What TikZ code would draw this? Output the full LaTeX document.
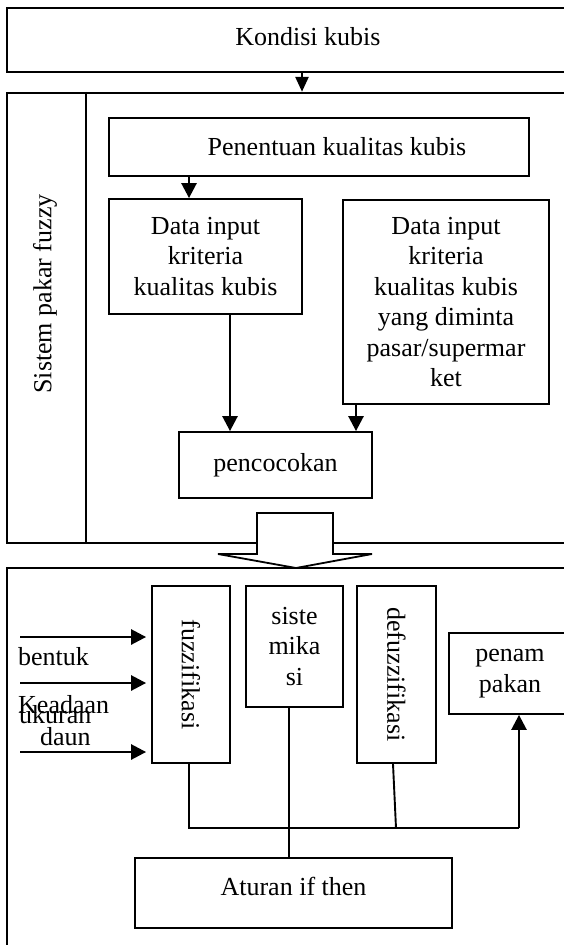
\documentclass[tikz,border=0pt]{standalone}
\usepackage{fontspec}
\setmainfont{Liberation Serif}
\usetikzlibrary{arrows.meta}
\begin{document}
\begin{tikzpicture}[x=1pt,y=-1pt,
  every node/.style={font=\fontsize{26}{30.5}\selectfont},
  box/.style={draw, line width=1.8pt, inner sep=0pt, align=center, fill=white},
  conn/.style={line width=1.9pt},
  arr/.style={line width=2.6pt, -{Triangle[length=15pt,width=15pt]}},
  lbl/.style={inner sep=0pt},
]
\clip (0,0) rectangle (564,945);
\fill[white] (0,0) rectangle (564,945);

% top
\node[box, minimum width=602.3pt, minimum height=63.4pt] (kondisi) at (307.85,40) {};
\node[lbl] (kondisitxt) at (307.85,37) {Kondisi kubis};

% expert system frame
\node[box, minimum width=600pt, minimum height=450.3pt] (sistembox) at (307.3,317.85) {};
\coordinate (div) at (86,0);
\draw[conn, line width=1.8pt] (sistembox.north -| div) -- (sistembox.south -| div);
\node[lbl, rotate=90] (sistemlbl) at (45,294) {Sistem pakar fuzzy};

\node[box, minimum width=420pt, minimum height=58pt] (penentuan) at (319,147) {\hspace*{36pt}Penentuan kualitas kubis};
\node[box, minimum width=193pt, minimum height=115pt] (dataL) at (205.5,256.5) {Data input\\kriteria\\kualitas kubis};
\node[box, minimum width=206pt, minimum height=204pt] (dataR) at (446,302) {Data input\\kriteria\\kualitas kubis\\yang diminta\\pasar/supermar\\ket};
\node[box, minimum width=193pt, minimum height=66pt] (cocok) at (275.5,465) {pencocokan};

\coordinate (a1) at (302,0);
\coordinate (a2) at (189,0);
\coordinate (a3) at (230,0);
\coordinate (a4) at (356,0);
\draw[arr, -{Triangle[length=15pt,width=13pt]}] (kondisi.south -| a1) -- (sistembox.north -| a1);
\draw[arr] (penentuan.south -| a2) -- (dataL.north -| a2);
\draw[arr] (dataL.south -| a3) -- (cocok.north -| a3);
\draw[arr] (dataR.south -| a4) -- (cocok.north -| a4);

% fuzzy frame
\node[box, minimum width=600pt, minimum height=400pt] (fuzzybox) at (307,768) {};

% hollow arrow
\draw[line width=1.8pt, fill=white, line join=miter]
  (257,513) -- (333,513) -- (333,554) -- (372,554) -- (296,568) -- (218,554) -- (257,554) -- cycle;

\node[box, minimum width=78pt, minimum height=177pt] (fuzz) at (191,674.5) {};
\node[lbl, rotate=-90] (fuzztxt) at (fuzz.center) {fuzzifikasi};
\node[box, minimum width=97pt, minimum height=121pt] (siste) at (294.5,646.5) {siste\\mika\\si};
\node[box, minimum width=79pt, minimum height=177pt] (defuzz) at (396.5,674.5) {};
\node[lbl, rotate=-90] (defuzztxt) at (defuzz.center) {defuzzifikasi};
\node[box, minimum width=122pt, minimum height=81pt] (penam) at (510,673.5) {penam\\pakan};
\node[box, minimum width=317pt, minimum height=70pt] (aturan) at (293.5,893) {};
\node[lbl] (aturantxt) at (293.5,886) {Aturan if then};

% inputs
\coordinate (in1) at (20,637);
\coordinate (in2) at (20,683);
\coordinate (in3) at (20,752);
\draw[arr, shorten >=5pt] (in1) -- (fuzz.west |- in1);
\draw[arr, shorten >=5pt] (in2) -- (fuzz.west |- in2);
\draw[arr, shorten >=5pt] (in3) -- (fuzz.west |- in3);
\node[lbl, anchor=base west] (bentuk) at (18,665) {bentuk};
\node[lbl, anchor=base west] (keadaan) at (18,713) {Keadaan};
\node[lbl, anchor=base west] (ukuran) at (19,723) {ukuran};
\node[lbl, anchor=base west] (daun) at (40,745) {daun};

% bottom connectors
\coordinate (jL) at (189,828);
\coordinate (jS) at (289,828);
\coordinate (jD) at (396,828);
\coordinate (jR) at (519,828);
\coordinate (dtop) at (393,0);
\draw[conn, line join=miter] (fuzz.south -| jL) -- (jL) -- (jR);
\draw[conn] (siste.south -| jS) -- (aturan.north -| jS);
\draw[conn] (defuzz.south -| dtop) -- (jD);
\draw[arr] (jR) -- (penam.south -| jR);
\end{tikzpicture}
\end{document}
